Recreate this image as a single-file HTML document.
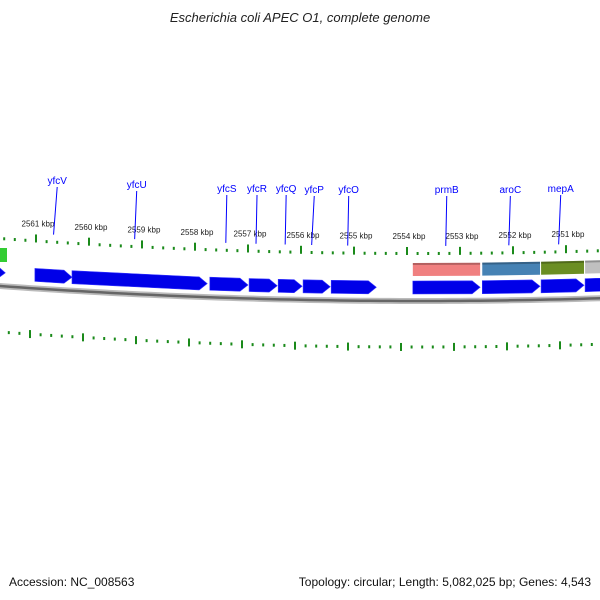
<!DOCTYPE html>
<html><head><meta charset="utf-8"><style>
body{margin:0;background:#fff}
svg{display:block;font-family:"Liberation Sans",sans-serif}
</style></head><body>
<svg id="chart" width="600" height="600" viewBox="0 0 600 600" xmlns="http://www.w3.org/2000/svg">
<rect width="600" height="600" fill="#fff"/>
<text x="300" y="22" font-size="13" font-style="italic" text-anchor="middle" fill="#222">Escherichia coli APEC O1, complete genome</text>
<text x="9" y="586" font-size="12" fill="#111">Accession: NC_008563</text>
<text x="591" y="586" font-size="12" text-anchor="end" fill="#111">Topology: circular; Length: 5,082,025 bp; Genes: 4,543</text>
<g id="plot"></g>
</svg>
<script>
const geneStarts=[2562.5,2561.02,2560.32,2557.72,2556.98,2556.43,2555.96,2555.43,2553.89,2552.58,2551.47,2550.64];
const geneEnds=[2561.58,2560.32,2557.77,2557.0,2556.45,2555.98,2555.45,2554.58,2552.62,2551.49,2550.66,2549.6];
const cogStarts=[2553.89,2552.58,2551.47,2550.64];
const cogEnds=[2552.62,2551.49,2550.66,2549.6];
const cogColors=['#f08080','#4682b4','#6b8e23','#c0c0c0'];
const tickKbp=[2561,2560,2559,2558,2557,2556,2555,2554,2553,2552,2551];
const labelNames=['yfcV','yfcU','yfcS','yfcR','yfcQ','yfcP','yfcO','prmB','aroC','mepA'];
const labelKbp=[2560.6,2559.1,2557.4,2556.83,2556.28,2555.75,2555.1,2553.25,2552.05,2551.1];
const labelLineKbp=[2560.65,2559.12,2557.4,2556.83,2556.28,2555.78,2555.1,2553.25,2552.06,2551.12];
const labelY=[184,188,192,192,192,193,193,193,193,192];

const NS='http://www.w3.org/2000/svg';
const plot=document.getElementById('plot');
function xOf(k){return 36+(2561-k)*53;}
function yOf(x,base){return base-(x-420)*(x-420)/11760;}
function mk(tag,attrs){const e=document.createElementNS(NS,tag);for(const k in attrs)e.setAttribute(k,attrs[k]);plot.appendChild(e);return e;}

let d='';for(let x=-10;x<=610;x+=10){d+=(x===-10?'M':'L')+x+','+yOf(x,301).toFixed(2);}
let bb=mk('path',{d:d,stroke:'#bbb','stroke-width':6,fill:'none'});


let bb2=mk('path',{d:d,stroke:'#666','stroke-width':2.5,fill:'none'});



for(let k=2562;k>=2549.4;k-=0.2){
  const kk=Math.round(k*10)/10;const major=Math.abs(kk-Math.round(kk))<0.01;
  const x=xOf(kk);if(x<-5||x>605)continue;
  const h=major?8:3;
  let t1=mk('rect',{x:x-1,y:yOf(x,255)-h,width:2,height:h,fill:'#1a8a1a'});
  
  
  const x2=x-6;
  let t2=mk('rect',{x:x2-1,y:yOf(x2,347)-(major?4:1.5),width:2,height:h,fill:'#1a8a1a'});
  
  
}
tickKbp.forEach(k=>{const x=xOf(k)+2;
  let t=mk('text',{x:x,y:yOf(x,239),'font-size':8,'text-anchor':'middle',fill:'#222'});
  t.textContent=k+' kbp';
  
  
});

cogStarts.forEach((s,i)=>{const x1=xOf(s),x2=xOf(cogEnds[i]);
  const p=[[x1,yOf(x1,263)],[x2,yOf(x2,263)],[x2,yOf(x2,276)],[x1,yOf(x1,276)]];
  let r=mk('polygon',{points:p.map(q=>q.join(',')).join(' '),fill:cogColors[i]});
  
  
  let e=mk('polygon',{points:[[x1,yOf(x1,263)],[x2,yOf(x2,263)],[x2,yOf(x2,265)],[x1,yOf(x1,265)]].map(q=>q.join(',')).join(' '),fill:'rgba(0,0,0,0.25)'});
  
  
});
let gb=mk('polygon',{points:'0,248 7,248 7,262 0,262',fill:'#33cc33'});



geneStarts.forEach((s,i)=>{const x1=xOf(s),x2=xOf(geneEnds[i]);const hx=Math.max(x1,x2-8);
  const top=281,bot=294,mid=287.5;
  const p=[[x1,yOf(x1,top)],[hx,yOf(hx,top)],[x2,yOf(x2,mid)],[hx,yOf(hx,bot)],[x1,yOf(x1,bot)]];
  let g=mk('polygon',{points:p.map(q=>q[0].toFixed(1)+','+q[1].toFixed(1)).join(' '),fill:'#0000e8',stroke:'#3333ff','stroke-width':0.6});
  
  
});

labelNames.forEach((n,i)=>{const x=xOf(labelKbp[i]),xl=xOf(labelLineKbp[i]);
  let l=mk('line',{x1:x,y1:labelY[i]+3,x2:xl-1,y2:yOf(xl,246),stroke:'#0000ff','stroke-width':1});
  
  
  let t=mk('text',{x:x,y:labelY[i],'font-size':10,'text-anchor':'middle',fill:'#0000ff'});
  t.textContent=n;
  
  
});
</script>
</body></html>
